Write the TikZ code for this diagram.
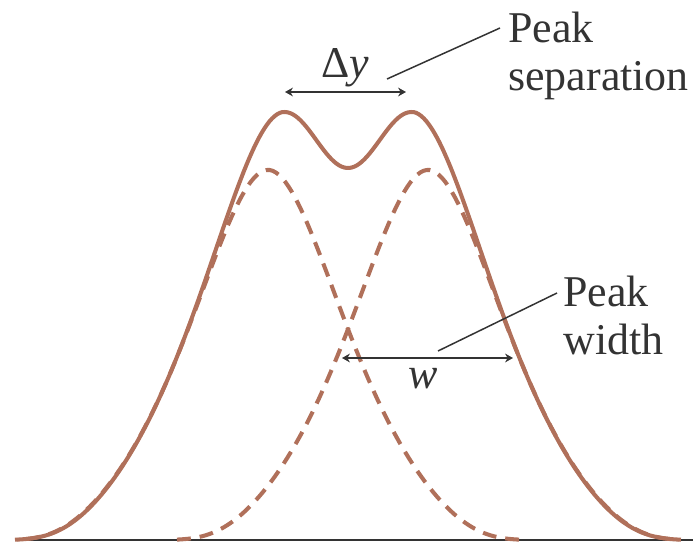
\documentclass[tikz,border=0pt]{standalone}
\usepackage{fontspec}
\setmainfont{Liberation Serif}
\usetikzlibrary{arrows.meta, positioning}
\definecolor{peakbrown}{HTML}{B0705A}
\definecolor{inkgray}{HTML}{333333}

\begin{document}
\begin{tikzpicture}[>={Stealth[length=4.5pt, width=5pt]},
  declare function={shp(\t)=exp(-1*(0.2645*\t*\t/(1+0.2095*abs(\t)) + 1.83*(abs(\t)/4.9)^7));},
  curve/.style={peakbrown, line width=2.3pt},
  part/.style={curve, dash pattern=on 7.9pt off 5.1pt},
  dim/.style={inkgray, line width=0.85pt},
  lbl/.style={text=inkgray, font=\fontsize{25}{27.2}\selectfont, inner sep=0pt}]

% Frame — same proportions as the plot area
\useasboundingbox (0,-0.16) rectangle (13.86,10.8);

% Baseline
\draw[inkgray, line width=1.1pt] (0.3,0) -- (13.86,0);

% Two component peaks, centred at 5.36 and 8.56 (height 7.4)
\draw[part, domain=10.38:0.34, samples=160] plot (\x, {7.4*shp(1.06*(\x-5.36))});
\draw[part, domain=3.54:13.58, samples=160] plot (\x, {7.4*shp(1.06*(\x-8.56))});

% Observed signal: maxima at 6.96 -/+ 1.27, dip in between
\draw[curve, domain=0.3:13.62, samples=260]
  plot (\x, {(abs(\x-6.96) < 1.27) ? (8 - 0.56*cos(141.73*(\x-6.96))) : (8.56*shp(abs(\x-6.96)-1.27))});

% Peak separation
\coordinate (sepL) at (5.7,8.96);
\coordinate (sepR) at (8.12,8.96);
\draw[dim, <->] (sepL) -- (sepR);
\node[lbl, anchor=base] (dy) at (6.9,9.26) {Δ\textit{y}};
\node[lbl, anchor=base west, align=left] (septext) at (10.16,9.0) {Peak\\separation};
\coordinate (sepfoot) at (7.74,9.22);
\coordinate (sephead) at (10.0,10.24);
\draw[dim] (sepfoot) -- (sephead);

% Peak width
\coordinate (wL) at (6.84,3.64);
\coordinate (wR) at (10.26,3.64);
\draw[dim, <->] (wL) -- (wR);
\node[lbl, anchor=base] (wlab) at (8.46,3.04) {\textit{w}};
\node[lbl, anchor=base west, align=left] (widtext) at (11.26,3.72) {Peak\\width};
\coordinate (widfoot) at (8.76,3.78);
\coordinate (widhead) at (11.14,4.94);
\draw[dim] (widfoot) -- (widhead);

\end{tikzpicture}
\end{document}
